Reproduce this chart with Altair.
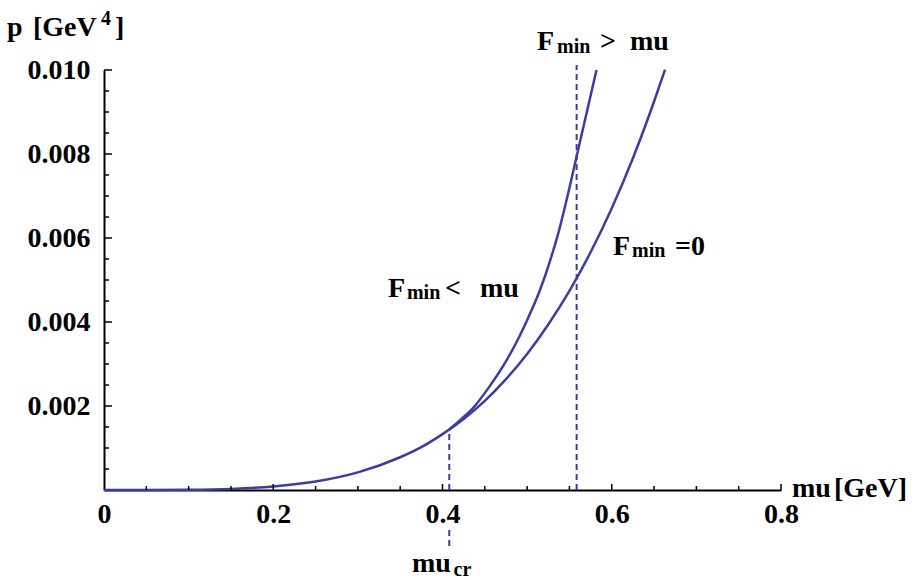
import altair as alt
import pandas as pd

# Pressure p(mu) for F_min = 0 (runs over the whole range)
mu_zero = [0.0, 0.05, 0.1, 0.15, 0.2, 0.25, 0.3, 0.35, 0.375, 0.4, 0.425, 0.45,
           0.475, 0.5, 0.525, 0.55, 0.575, 0.6, 0.625, 0.65, 0.663]
p_zero = [0.0, 0.0000003, 0.0000052, 0.000026, 0.000083, 0.000202, 0.00042,
          0.00078, 0.00102, 0.00133, 0.00169, 0.00212, 0.00264, 0.00324,
          0.00394, 0.00474, 0.00566, 0.00671, 0.00790, 0.00925, 0.01001]

# Pressure for the F_min < mu branch, starting at mu_cr
mu_branch = [0.408, 0.42, 0.436, 0.455, 0.476, 0.49, 0.503, 0.515, 0.527,
             0.538, 0.548, 0.558, 0.570, 0.582]
p_branch = [0.00144, 0.00165, 0.00195, 0.00245, 0.0031, 0.00362, 0.00418,
            0.00475, 0.00545, 0.0062, 0.00702, 0.00790, 0.00895, 0.0100]

# Critical chemical potential and the F_min > mu boundary
mu_cr = 0.408
p_cr = 0.00144
mu_gt = 0.5585

# Axis ticks
x_major = [0.0, 0.2, 0.4, 0.6, 0.8]
x_minor = [0.05, 0.1, 0.15, 0.25, 0.3, 0.35, 0.45, 0.5, 0.55, 0.65, 0.7, 0.75]
y_major = [0.002, 0.004, 0.006, 0.008, 0.010]
y_minor = [0.0005, 0.001, 0.0015, 0.0025, 0.003, 0.0035, 0.0045, 0.005, 0.0055,
           0.0065, 0.007, 0.0075, 0.0085, 0.009, 0.0095]

# Annotation pieces: main-size text and sub/superscripts, anchored in data units
big_text = ["F", ">", "mu", "F", "<", "mu", "F", "=0", "mu", "mu", "[GeV]",
            "p", "[GeV", "]"]
big_mu = [0.5117, 0.5861, 0.6216, 0.3356, 0.4030, 0.4443, 0.6015, 0.6747,
          0.3640, 0.8130, 0.8625, -0.1146, -0.0839, 0.0130]
big_p = [0.01048, 0.01048, 0.01048, 0.00459, 0.00459, 0.00459, 0.00560,
         0.00560, -0.00195, -0.00017, -0.00017, 0.01081, 0.01081, 0.01081]

small_text = ["min", "min", "min", "cr", "4"]
small_mu = [0.5353, 0.3580, 0.6239, 0.4130, -0.0035]
small_p = [0.01040, 0.00455, 0.00555, -0.00205, 0.01107]

BLUE = "#3d3d9f"
FONT = "Liberation Serif"
W, H = 677, 420

xs = alt.Scale(domain=[0, 0.8], nice=False, zero=False)
ys = alt.Scale(domain=[0, 0.010], nice=False, zero=False)

x_axis = alt.Axis(values=x_major, labelExpr="datum.value == 0 ? '0' : format(datum.value, '.1f')",
                  ticks=False, tickSize=0, grid=False, title=None,
                  domainColor="black", domainWidth=2, labelColor="black",
                  labelFont=FONT, labelFontSize=28, labelFontWeight="bold",
                  labelPadding=10, labelFlush=False, labelOverlap=False)
y_axis = alt.Axis(values=y_major, format=".3f", ticks=False, tickSize=0,
                  grid=False, title=None, domainColor="black", domainWidth=2,
                  labelColor="black", labelFont=FONT, labelFontSize=28,
                  labelFontWeight="bold", labelPadding=14, labelFlush=False,
                  labelOverlap=False)


def X(field):
    return alt.X(field, type="quantitative", scale=xs, axis=x_axis)


def Y(field):
    return alt.Y(field, type="quantitative", scale=ys, axis=y_axis)


zero_df = pd.DataFrame({"mu": mu_zero, "p": p_zero})
branch_df = pd.DataFrame({"mu": mu_branch, "p": p_branch})

curve_zero = alt.Chart(zero_df).mark_line(color=BLUE, strokeWidth=2.5, interpolate="monotone").encode(
    x=X("mu"), y=Y("p"),
)
curve_branch = alt.Chart(branch_df).mark_line(color=BLUE, strokeWidth=2.5, interpolate="monotone").encode(
    x=X("mu"), y=Y("p"),
)

dash_df = pd.DataFrame({
    "mu": [mu_cr, mu_cr, mu_gt],
    "p": [0.0, -0.00095, 0.0],
    "p1": [p_cr, -0.00140, 0.01012],
})
dashes = alt.Chart(dash_df).mark_rule(color=BLUE, strokeWidth=2, strokeDash=[6, 4]).encode(
    x=X("mu"), y=Y("p"), y2="p1:Q",
)


def x_ticks(values, length):
    return alt.Chart(pd.DataFrame({"mu": values})).mark_rule(color="black", strokeWidth=1.5).encode(
        x=X("mu"),
        y=alt.value(H),
        y2=alt.value(H - length),
    )


def y_ticks(values, length):
    return alt.Chart(pd.DataFrame({"p": values})).mark_rule(color="black", strokeWidth=1.5).encode(
        y=Y("p"),
        x=alt.value(0),
        x2=alt.value(length),
    )


def labels(texts, mus, ps, size):
    df = pd.DataFrame({"t": texts, "mu": mus, "p": ps})
    return alt.Chart(df).mark_text(align="left", baseline="alphabetic", font=FONT,
                                   fontWeight="bold", fontSize=size, color="black").encode(
        x=X("mu"), y=Y("p"), text="t:N",
    )


chart = alt.layer(
    dashes,
    curve_zero,
    curve_branch,
    x_ticks(x_major[1:], 6),
    x_ticks(x_minor, 4),
    y_ticks(y_major, 8),
    y_ticks(y_minor, 5),
    labels(big_text, big_mu, big_p, 28),
    labels(small_text, small_mu, small_p, 20),
).properties(
    width=W,
    height=H,
    padding={"left": 104, "top": 70, "right": 143, "bottom": 90},
    autosize=alt.AutoSizeParams(type="none"),
).configure_view(strokeWidth=0)

chart.save("out.html", embed_options={"renderer": "svg", "actions": False})
